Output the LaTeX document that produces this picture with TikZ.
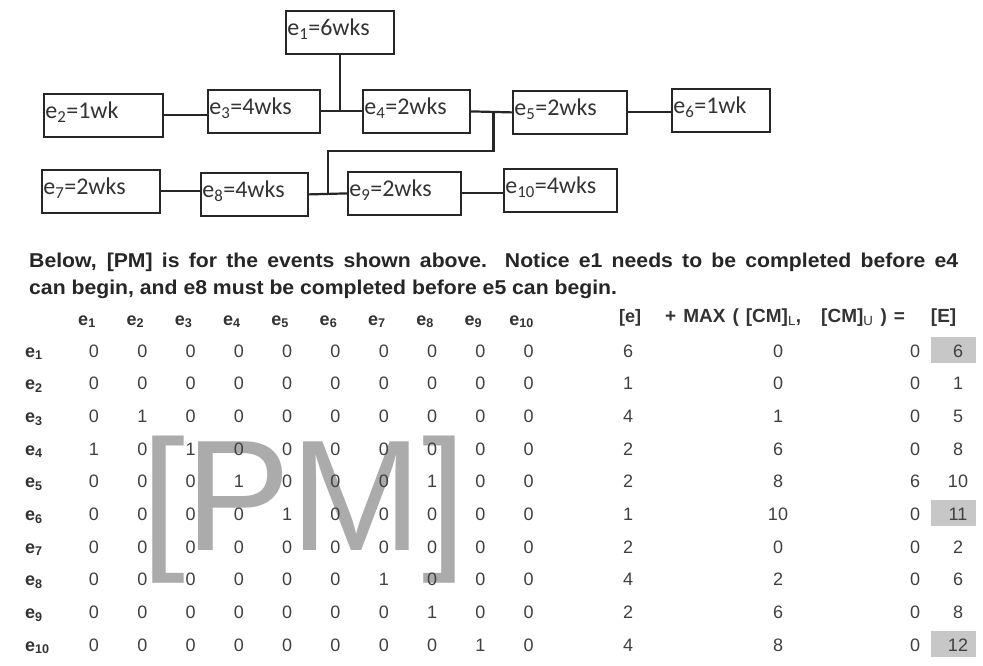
\documentclass[tikz,border=0pt]{standalone}
\usepackage{fontspec}
\setmainfont{Liberation Sans}
\newfontfamily\boxfont{Carlito}
\newfontfamily\notefont[FakeStretch=1.06]{Liberation Sans}
\usetikzlibrary{positioning, calc}

\tikzset{
  evbox/.style={draw=black!85, line width=1.8pt, minimum height=43pt,
    text width=#1, align=left, inner xsep=1.5pt, inner ysep=0pt,
    text height=14pt, text depth=8pt, anchor=north west,
    font=\boxfont\fontsize{24}{26}\selectfont, text=black!80},
  link/.style={draw=black!85, line width=2.2pt},
  note/.style={font=\notefont\bfseries\fontsize{20}{27}\selectfont,
    text width=929pt, align=justify, inner sep=0pt, text=black!85},
  colhead/.style={anchor=base, inner sep=0pt,
    font=\bfseries\fontsize{18}{18}\selectfont, text=black!80},
  rowhead/.style={anchor=base west, inner sep=0pt,
    font=\bfseries\fontsize{18}{18}\selectfont, text=black!80},
  cell/.style={anchor=base, inner sep=0pt,
    font=\fontsize{18}{18}\selectfont, text=black!75},
  hlbox/.style={fill=black!22, minimum width=45pt, minimum height=26pt,
    inner sep=0pt},
  pmmark/.style={inner sep=0pt, text=black!33,
    font=\fontsize{158}{158}\selectfont}
}

\begin{document}
\begin{tikzpicture}[x=1pt, y=-1pt]
  \useasboundingbox (0,0) rectangle (983,666);
  \fill[white] (0,0) rectangle (983,666);
  % event boxes
  \node[evbox=105pt] (e1)  at (285,10)  {e\textsubscript{1}=6wks};
  \node[evbox=116pt] (e2)  at (43,93)   {e\textsubscript{2}=1wk};
  \node[evbox=109pt] (e3)  at (207,89)  {e\textsubscript{3}=4wks};
  \node[evbox=104pt] (e4)  at (362,89)  {e\textsubscript{4}=2wks};
  \node[evbox=111pt] (e5)  at (512,90)  {e\textsubscript{5}=2wks};
  \node[evbox=95pt]  (e6)  at (671,88)  {e\textsubscript{6}=1wk};
  \node[evbox=115pt] (e7)  at (41,169)  {e\textsubscript{7}=2wks};
  \node[evbox=104pt] (e8)  at (200,172) {e\textsubscript{8}=4wks};
  \node[evbox=110pt] (e9)  at (347,171) {e\textsubscript{9}=2wks};
  \node[evbox=110pt] (e10) at (503,168) {e\textsubscript{10}=4wks};
  % junctions
  \coordinate (j0) at (e1.south |- e3.east);
  \coordinate (j1) at ($(e4.east)!0.55!(e5.west)$);
  \coordinate (j2) at ($(e8.east)!0.5!(e9.west)$);
  % connectors
  \draw[link] (e1.south) -- (j0);
  \draw[link] (e2.east) -- (e2.east -| e3.west);
  \draw[link] (e3.east) -- (e4.west);
  \draw[link] (e4.east) -- (e5.west);
  \draw[link] (j1) -- ++(0,39) -| (j2);
  \draw[link] (e5.east) -- (e5.east -| e6.west);
  \draw[link] (e7.east) -- (e7.east -| e8.west);
  \draw[link] (e8.east) -- (e9.west);
  \draw[link] (e9.east) -- (e9.east -| e10.west);
  % explanation
  \node[note, anchor=north west] (note) at (29,253)
    {Below, [PM] is for the events shown above. Notice e1 needs to be completed before e4\linebreak
     can begin, and e8 must be completed before e5 can begin.};
  % [PM] mark behind the matrix
  \node[pmmark] (pm) at (304,510) {[PM]};
  % highlighted results
  \foreach \i in {1,6,10}
    \node[hlbox] (hl\i) at (953,{357+32.67*(\i-1)-7}) {};
  % column heads
  \foreach \j in {1,...,10}
    \node[colhead] (h\j) at ({87+48.3*(\j-1)},325) {e\textsubscript{\j}};
  \node[colhead] (he) at (630,322) {[e]};
  \node[colhead, font=\bfseries\fontsize{19}{19}\selectfont, anchor=base west] (hmax) at (665,322)
    {\spaceskip=7pt plus 1pt\relax
     + MAX ( [CM]\textsubscript{\mdseries L},\hspace{20pt}[CM]\textsubscript{\mdseries U} ) =\hspace{26pt}[E]};
  % precedence matrix
  \foreach \row [count=\i] in {
    {0,0,0,0,0,0,0,0,0,0},
    {0,0,0,0,0,0,0,0,0,0},
    {0,1,0,0,0,0,0,0,0,0},
    {1,0,1,0,0,0,0,0,0,0},
    {0,0,0,1,0,0,0,1,0,0},
    {0,0,0,0,1,0,0,0,0,0},
    {0,0,0,0,0,0,0,0,0,0},
    {0,0,0,0,0,0,1,0,0,0},
    {0,0,0,0,0,0,0,1,0,0},
    {0,0,0,0,0,0,0,0,1,0}}{
    \node[rowhead] (r\i) at (25,{357+32.67*(\i-1)}) {e\textsubscript{\i}};
    \foreach \v [count=\j] in \row
      \node[cell] (pm-\i-\j) at ({94+48.3*(\j-1)},{357+32.67*(\i-1)}) {\v};
  }
  % [e], MAX terms and [E]
  \foreach \a/\b/\c/\d [count=\i] in {6/0/0/6, 1/0/0/1, 4/1/0/5, 2/6/0/8,
      2/8/6/10, 1/10/0/11, 2/0/0/2, 4/2/0/6, 2/6/0/8, 4/8/0/12}{
    \node[cell] (ev\i) at (628,{357+32.67*(\i-1)}) {\a};
    \node[cell] (cl\i) at (778,{357+32.67*(\i-1)}) {\b};
    \node[cell] (cu\i) at (915,{357+32.67*(\i-1)}) {\c};
    \node[cell] (E\i)  at (958,{357+32.67*(\i-1)}) {\d};
  }
\end{tikzpicture}
\end{document}
